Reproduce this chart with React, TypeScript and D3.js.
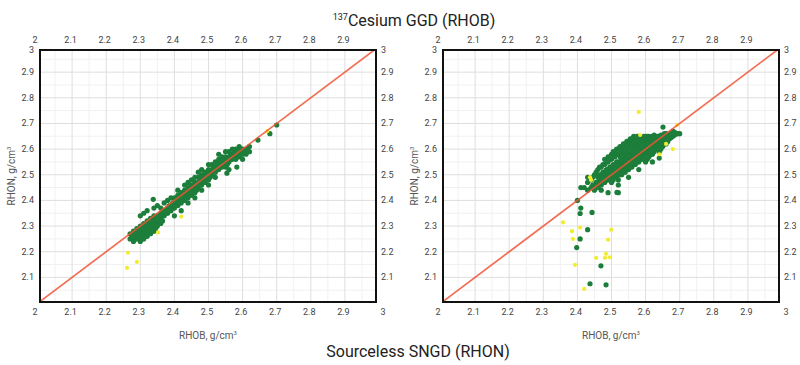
import React from "react";
import * as d3 from "d3";

// tick values shared by both panels
const xTickVals = [2, 2.1, 2.2, 2.3, 2.4, 2.5, 2.6, 2.7, 2.8, 2.9, 3];
const topTickVals = [2, 2.1, 2.2, 2.3, 2.4, 2.5, 2.6, 2.7, 2.8, 2.9];
const yTickVals = [2.1, 2.2, 2.3, 2.4, 2.5, 2.6, 2.7, 2.8, 2.9, 3];

// left panel: [RHOB, RHON]
const leftGreen: [number, number][] = [
  [2.27, 2.25], [2.27, 2.27], [2.28, 2.24], [2.28, 2.26], [2.28, 2.28], [2.29, 2.25], [2.29, 2.27], [2.29, 2.29],
  [2.30, 2.24], [2.30, 2.26], [2.30, 2.28], [2.30, 2.30], [2.31, 2.25], [2.31, 2.27], [2.31, 2.29], [2.31, 2.31],
  [2.32, 2.26], [2.32, 2.28], [2.32, 2.30], [2.32, 2.32], [2.33, 2.27], [2.33, 2.29], [2.33, 2.31], [2.33, 2.33],
  [2.34, 2.28], [2.34, 2.30], [2.34, 2.32], [2.34, 2.34], [2.35, 2.30], [2.35, 2.32], [2.35, 2.34], [2.36, 2.31],
  [2.36, 2.33], [2.36, 2.35],
  [2.275, 2.26], [2.285, 2.25], [2.285, 2.27], [2.295, 2.26], [2.295, 2.28], [2.305, 2.25], [2.305, 2.27], [2.305, 2.29],
  [2.315, 2.26], [2.315, 2.28], [2.315, 2.30], [2.325, 2.27], [2.325, 2.29], [2.325, 2.31], [2.335, 2.28], [2.335, 2.30],
  [2.335, 2.32], [2.345, 2.29], [2.345, 2.31], [2.345, 2.33], [2.355, 2.31], [2.355, 2.33], [2.365, 2.32], [2.365, 2.34],
  [2.30, 2.34], [2.31, 2.35], [2.32, 2.36], [2.34, 2.37], [2.338, 2.404], [2.35, 2.38], [2.36, 2.37], [2.37, 2.39], [2.38, 2.40],
  [2.37, 2.34], [2.37, 2.36], [2.38, 2.35], [2.38, 2.37], [2.39, 2.36], [2.39, 2.38], [2.40, 2.37], [2.40, 2.39],
  [2.40, 2.41], [2.41, 2.38], [2.41, 2.40], [2.41, 2.42], [2.42, 2.39], [2.42, 2.41], [2.42, 2.43], [2.43, 2.40],
  [2.43, 2.42], [2.43, 2.44], [2.44, 2.41], [2.44, 2.43], [2.44, 2.45], [2.44, 2.47], [2.45, 2.42], [2.45, 2.44],
  [2.45, 2.46], [2.45, 2.48], [2.46, 2.43], [2.46, 2.45], [2.46, 2.47], [2.46, 2.49], [2.47, 2.45], [2.47, 2.47],
  [2.47, 2.49], [2.47, 2.51], [2.48, 2.46], [2.48, 2.48], [2.48, 2.50], [2.48, 2.52], [2.49, 2.47], [2.49, 2.49],
  [2.49, 2.51], [2.50, 2.48], [2.50, 2.50], [2.50, 2.52], [2.50, 2.54],
  [2.375, 2.35], [2.385, 2.36], [2.385, 2.38], [2.395, 2.37], [2.395, 2.39], [2.405, 2.38], [2.405, 2.40], [2.415, 2.39],
  [2.415, 2.41], [2.425, 2.40], [2.425, 2.42], [2.435, 2.41], [2.435, 2.43], [2.445, 2.42], [2.445, 2.44], [2.455, 2.43],
  [2.455, 2.45], [2.465, 2.44], [2.465, 2.46], [2.475, 2.46], [2.475, 2.48], [2.485, 2.47], [2.485, 2.49], [2.495, 2.48],
  [2.495, 2.50], [2.505, 2.49], [2.505, 2.51],
  [2.51, 2.50], [2.51, 2.52], [2.51, 2.54], [2.52, 2.51], [2.52, 2.53], [2.52, 2.55], [2.53, 2.52], [2.53, 2.54],
  [2.53, 2.56], [2.54, 2.53], [2.54, 2.55], [2.54, 2.57], [2.55, 2.53], [2.55, 2.55], [2.55, 2.57], [2.56, 2.55],
  [2.56, 2.57], [2.56, 2.59], [2.57, 2.56], [2.57, 2.58], [2.57, 2.60], [2.58, 2.56], [2.58, 2.58], [2.58, 2.60],
  [2.59, 2.57], [2.59, 2.59], [2.59, 2.61], [2.60, 2.58], [2.60, 2.60], [2.61, 2.58], [2.61, 2.60], [2.62, 2.59],
  [2.62, 2.61],
  [2.515, 2.51], [2.515, 2.53], [2.525, 2.52], [2.525, 2.54], [2.535, 2.53], [2.535, 2.55], [2.545, 2.54], [2.545, 2.56],
  [2.555, 2.54], [2.555, 2.56], [2.565, 2.56], [2.565, 2.58], [2.575, 2.57], [2.575, 2.59], [2.585, 2.57], [2.585, 2.59],
  [2.595, 2.58], [2.595, 2.60], [2.605, 2.59], [2.615, 2.59],
  [2.43, 2.46], [2.41, 2.44], [2.39, 2.41], [2.52, 2.49], [2.56, 2.52], [2.60, 2.56], [2.46, 2.41], [2.48, 2.44],
  [2.50, 2.46], [2.44, 2.39],
  [2.554, 2.506], [2.583, 2.53], [2.53, 2.58], [2.55, 2.59], [2.645, 2.635], [2.68, 2.66], [2.70, 2.694],
  [2.40, 2.34], [2.42, 2.36],
];
const leftYellow: [number, number][] = [
  [2.264, 2.196], [2.261, 2.137], [2.29, 2.16], [2.352, 2.275], [2.42, 2.337], [2.672, 2.67],
];

// right panel
const rightGreen: [number, number][] = [
  [2.43, 2.44], [2.43, 2.47], [2.43, 2.49], [2.44, 2.45], [2.44, 2.48], [2.45, 2.44], [2.45, 2.46], [2.45, 2.50],
  [2.46, 2.45], [2.46, 2.47], [2.46, 2.49], [2.46, 2.52], [2.47, 2.46], [2.47, 2.48], [2.47, 2.50], [2.47, 2.53],
  [2.48, 2.47], [2.48, 2.49], [2.48, 2.51], [2.48, 2.54], [2.48, 2.56], [2.49, 2.48], [2.49, 2.50], [2.49, 2.52],
  [2.49, 2.55], [2.49, 2.57], [2.50, 2.47], [2.50, 2.49], [2.50, 2.51], [2.50, 2.53], [2.50, 2.56], [2.50, 2.58],
  [2.51, 2.50], [2.51, 2.52], [2.51, 2.54], [2.51, 2.57], [2.51, 2.59], [2.52, 2.48], [2.52, 2.51], [2.52, 2.53],
  [2.52, 2.55], [2.52, 2.58], [2.52, 2.60], [2.53, 2.50], [2.53, 2.52], [2.53, 2.54], [2.53, 2.56], [2.53, 2.59],
  [2.53, 2.61], [2.54, 2.51], [2.54, 2.53], [2.54, 2.55], [2.54, 2.57], [2.54, 2.60], [2.54, 2.62], [2.55, 2.52],
  [2.55, 2.54], [2.55, 2.56], [2.55, 2.58], [2.55, 2.61], [2.55, 2.63], [2.56, 2.53], [2.56, 2.55], [2.56, 2.57],
  [2.56, 2.59], [2.56, 2.62], [2.56, 2.64], [2.57, 2.54], [2.57, 2.56], [2.57, 2.58], [2.57, 2.60], [2.57, 2.62],
  [2.57, 2.64], [2.58, 2.55], [2.58, 2.57], [2.58, 2.59], [2.58, 2.61], [2.58, 2.63], [2.58, 2.65], [2.59, 2.56],
  [2.59, 2.58], [2.59, 2.60], [2.59, 2.62], [2.59, 2.64], [2.60, 2.55], [2.60, 2.58], [2.60, 2.60], [2.60, 2.62],
  [2.60, 2.64], [2.60, 2.65], [2.61, 2.57], [2.61, 2.59], [2.61, 2.61], [2.61, 2.63], [2.61, 2.65], [2.62, 2.58],
  [2.62, 2.60], [2.62, 2.62], [2.62, 2.64], [2.62, 2.65], [2.63, 2.60], [2.63, 2.62], [2.63, 2.64], [2.63, 2.65],
  [2.64, 2.59], [2.64, 2.61], [2.64, 2.63], [2.64, 2.65], [2.65, 2.61], [2.65, 2.63], [2.65, 2.65], [2.66, 2.62],
  [2.66, 2.64], [2.66, 2.66], [2.67, 2.64], [2.67, 2.66], [2.68, 2.65], [2.68, 2.67], [2.69, 2.66], [2.70, 2.66],
  [2.445, 2.46], [2.445, 2.49], [2.455, 2.45], [2.455, 2.47], [2.455, 2.51], [2.465, 2.46], [2.465, 2.48], [2.465, 2.50],
  [2.465, 2.53], [2.475, 2.47], [2.475, 2.49], [2.475, 2.51], [2.475, 2.54], [2.485, 2.48], [2.485, 2.50], [2.485, 2.52],
  [2.485, 2.55], [2.495, 2.49], [2.495, 2.51], [2.495, 2.53], [2.495, 2.56], [2.505, 2.48], [2.505, 2.50], [2.505, 2.52],
  [2.505, 2.54], [2.505, 2.57], [2.505, 2.59], [2.515, 2.49], [2.515, 2.51], [2.515, 2.53], [2.515, 2.55], [2.515, 2.58],
  [2.515, 2.60], [2.525, 2.50], [2.525, 2.52], [2.525, 2.54], [2.525, 2.57], [2.525, 2.59], [2.525, 2.61], [2.535, 2.51],
  [2.535, 2.53], [2.535, 2.55], [2.535, 2.58], [2.535, 2.60], [2.535, 2.62], [2.545, 2.52], [2.545, 2.54], [2.545, 2.56],
  [2.545, 2.59], [2.545, 2.61], [2.545, 2.63], [2.555, 2.53], [2.555, 2.55], [2.555, 2.57], [2.555, 2.60], [2.555, 2.62],
  [2.555, 2.64], [2.565, 2.54], [2.565, 2.56], [2.565, 2.58], [2.565, 2.61], [2.565, 2.63], [2.565, 2.65], [2.575, 2.55],
  [2.575, 2.57], [2.575, 2.59], [2.575, 2.61], [2.575, 2.63], [2.575, 2.65], [2.585, 2.56], [2.585, 2.58], [2.585, 2.60],
  [2.585, 2.62], [2.585, 2.64], [2.595, 2.57], [2.595, 2.59], [2.595, 2.61], [2.595, 2.63], [2.595, 2.65], [2.605, 2.56],
  [2.605, 2.59], [2.605, 2.61], [2.605, 2.63], [2.605, 2.65], [2.615, 2.58], [2.615, 2.60], [2.615, 2.62], [2.615, 2.64],
  [2.625, 2.59], [2.625, 2.61], [2.625, 2.63], [2.625, 2.655], [2.635, 2.61], [2.635, 2.63], [2.635, 2.65], [2.645, 2.60],
  [2.645, 2.62], [2.645, 2.64], [2.645, 2.655], [2.655, 2.62], [2.655, 2.64], [2.655, 2.66], [2.665, 2.63], [2.665, 2.65],
  [2.675, 2.645], [2.675, 2.66], [2.685, 2.655], [2.685, 2.665], [2.695, 2.66],
  [2.52, 2.46], [2.55, 2.49], [2.58, 2.52], [2.62, 2.55], [2.64, 2.565], [2.651, 2.686],
  [2.40, 2.40], [2.41, 2.45], [2.42, 2.45], [2.41, 2.37], [2.408, 2.349], [2.443, 2.353], [2.52, 2.43], [2.49, 2.43],
  [2.47, 2.44], [2.516, 2.431],
  [2.43, 2.286], [2.408, 2.25], [2.398, 2.216], [2.469, 2.145], [2.437, 2.075], [2.484, 2.071],
];
const rightYellow: [number, number][] = [
  [2.58, 2.745], [2.437, 2.49], [2.44, 2.48], [2.584, 2.655], [2.66, 2.62], [2.68, 2.60], [2.64, 2.58], [2.692, 2.694],
  [2.358, 2.314], [2.384, 2.28], [2.408, 2.294], [2.387, 2.25], [2.499, 2.286], [2.49, 2.247], [2.455, 2.176],
  [2.484, 2.192], [2.481, 2.176], [2.495, 2.178], [2.393, 2.149], [2.42, 2.055],
];

const mainTitle = "Cesium GGD (RHOB)";
const mainTitleSup = "137";
const bottomTitle = "Sourceless SNGD (RHON)";
const xTitle = "RHOB, g/cm";
const yTitle = "RHON, g/cm";

const W = 800;
const H = 365;
const FONT = "Roboto, 'DejaVu Sans', sans-serif";
const GREEN = "#1c7e3a";
const YELLOW = "#f3ec2e";
const RED = "#ee5535";

const fmt = (v: number) => (v === 2 || v === 3 ? String(v) : v.toFixed(1));

interface PanelProps {
  dx: number;
  id: string;
  green: [number, number][];
  yellow: [number, number][];
}

const Panel: React.FC<PanelProps> = ({ dx, id, green, yellow }) => {
  const left = 40 + dx;
  const right = 376 + dx;
  const top = 50;
  const bottom = 302;
  const x = d3.scaleLinear().domain([2, 3]).range([38 + dx, 379 + dx]);
  const y = d3.scaleLinear().domain([2, 3]).range([303, 46.5]);
  const minor = d3.range(2.05, 3, 0.1);
  const major = d3.range(2.1, 2.95, 0.1);
  const line = d3.line<number>().x((v) => x(v)).y((v) => y(v));

  return (
    <g>
      <defs>
        <clipPath id={id}>
          <rect x={left} y={top} width={right - left} height={bottom - top} />
        </clipPath>
      </defs>
      <rect x={left} y={top} width={right - left} height={bottom - top} fill="#fff" />
      <g clipPath={`url(#${id})`}>
        {minor.map((v) => (
          <g key={"m" + v}>
            <line x1={x(v)} x2={x(v)} y1={top} y2={bottom} stroke="#f1f1f1" />
            <line x1={left} x2={right} y1={y(v)} y2={y(v)} stroke="#f1f1f1" />
          </g>
        ))}
        {major.map((v) => (
          <g key={"M" + v}>
            <line x1={x(v)} x2={x(v)} y1={top} y2={bottom} stroke="#dedede" />
            <line x1={left} x2={right} y1={y(v)} y2={y(v)} stroke="#dedede" />
          </g>
        ))}
        {green.map((d, i) => (
          <circle key={"g" + i} cx={x(d[0])} cy={y(d[1])} r={2.6} fill={GREEN} />
        ))}
        {yellow.map((d, i) => (
          <circle key={"y" + i} cx={x(d[0])} cy={y(d[1])} r={2.1} fill={YELLOW} />
        ))}
        <path d={line([2, 3]) ?? ""} stroke={RED} strokeWidth={1.7} fill="none" opacity={0.85} />
      </g>
      <rect x={left} y={top} width={right - left} height={bottom - top} fill="none" stroke="#111" strokeWidth={2} />

      <g fontFamily={FONT} fontSize={9} fill="#444">
        {xTickVals.map((v) => (
          <text key={"bx" + v} x={x(v) + (v === 3 ? 4 : v === 2 ? -3 : -1.5)} y={315} textAnchor="middle">
            {fmt(v)}
          </text>
        ))}
        {topTickVals.map((v) => (
          <text key={"tx" + v} x={x(v) + (v === 2 ? -3 : -1.5)} y={43} textAnchor="middle">
            {fmt(v)}
          </text>
        ))}
        {yTickVals.map((v) => (
          <text key={"ly" + v} x={left - 6} y={Math.max(y(v), 50) + 3} textAnchor="end">
            {fmt(v)}
          </text>
        ))}
        {yTickVals.map((v) => (
          <text key={"ry" + v} x={right + 5} y={Math.max(y(v), 50) + 3} textAnchor="start">
            {fmt(v)}
          </text>
        ))}
      </g>

      <text x={(left + right) / 2} y={339} textAnchor="middle" fontFamily={FONT} fontSize={10} fill="#555">
        {xTitle}
        <tspan fontSize={6} dy={-4}>3</tspan>
      </text>
      <text
        transform={`translate(${dx + 15},${(top + bottom) / 2}) rotate(-90)`}
        textAnchor="middle"
        fontFamily={FONT}
        fontSize={10}
        fill="#555"
      >
        {yTitle}
        <tspan fontSize={6} dy={-4}>3</tspan>
      </text>
    </g>
  );
};

export default function App() {
  return (
    <svg
      width={W}
      height={H}
      viewBox={`0 0 ${W} ${H}`}
      style={{ position: "absolute", left: 0, top: 0, display: "block", background: "#fff" }}
    >
      <rect width={W} height={H} fill="#fff" />
      <text x={414} y={26} textAnchor="middle" fontFamily={FONT} fontSize={16} fill="#222">
        <tspan fontSize={9} dy={-6}>{mainTitleSup}</tspan>
        <tspan dy={6}>{mainTitle}</tspan>
      </text>
      <Panel dx={0} id="clipL" green={leftGreen} yellow={leftYellow} />
      <Panel dx={403} id="clipR" green={rightGreen} yellow={rightYellow} />
      <text x={418} y={357} textAnchor="middle" fontFamily={FONT} fontSize={16} fill="#222">
        {bottomTitle}
      </text>
    </svg>
  );
}
